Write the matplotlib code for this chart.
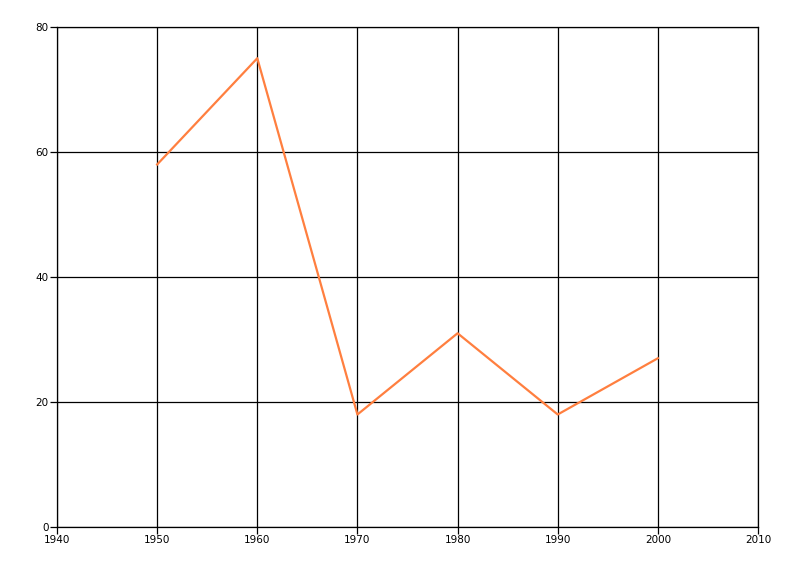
import matplotlib
matplotlib.use('Agg')
import matplotlib.pyplot as plt

# Daten
years = [1950, 1960, 1970, 1980, 1990, 2000]
values = [58, 75, 18, 31, 18, 27]
x_ticks = [1940, 1950, 1960, 1970, 1980, 1990, 2000, 2010]
y_ticks = [0, 20, 40, 60, 80]

fig = plt.figure(figsize=(8, 5.76), dpi=100)
ax = fig.add_axes([57 / 800, 49 / 576, 701 / 800, 500 / 576])

ax.plot(years, values, color='#FF7F3F', linewidth=1.6, zorder=3)

ax.set_xlim(1940, 2010)
ax.set_ylim(0, 80)
ax.set_xticks(x_ticks)
ax.set_yticks(y_ticks)
ax.grid(True, color='black', linewidth=0.9)
ax.set_axisbelow(True)

# Rahmen = aeussere Gitterlinien
for side in ['left', 'bottom', 'top', 'right']:
    ax.spines[side].set_linewidth(0.9)

ax.tick_params(axis='both', length=5, width=0.9, labelsize=7.5, pad=1, colors='black')

fig.savefig('out.png', dpi=100)
